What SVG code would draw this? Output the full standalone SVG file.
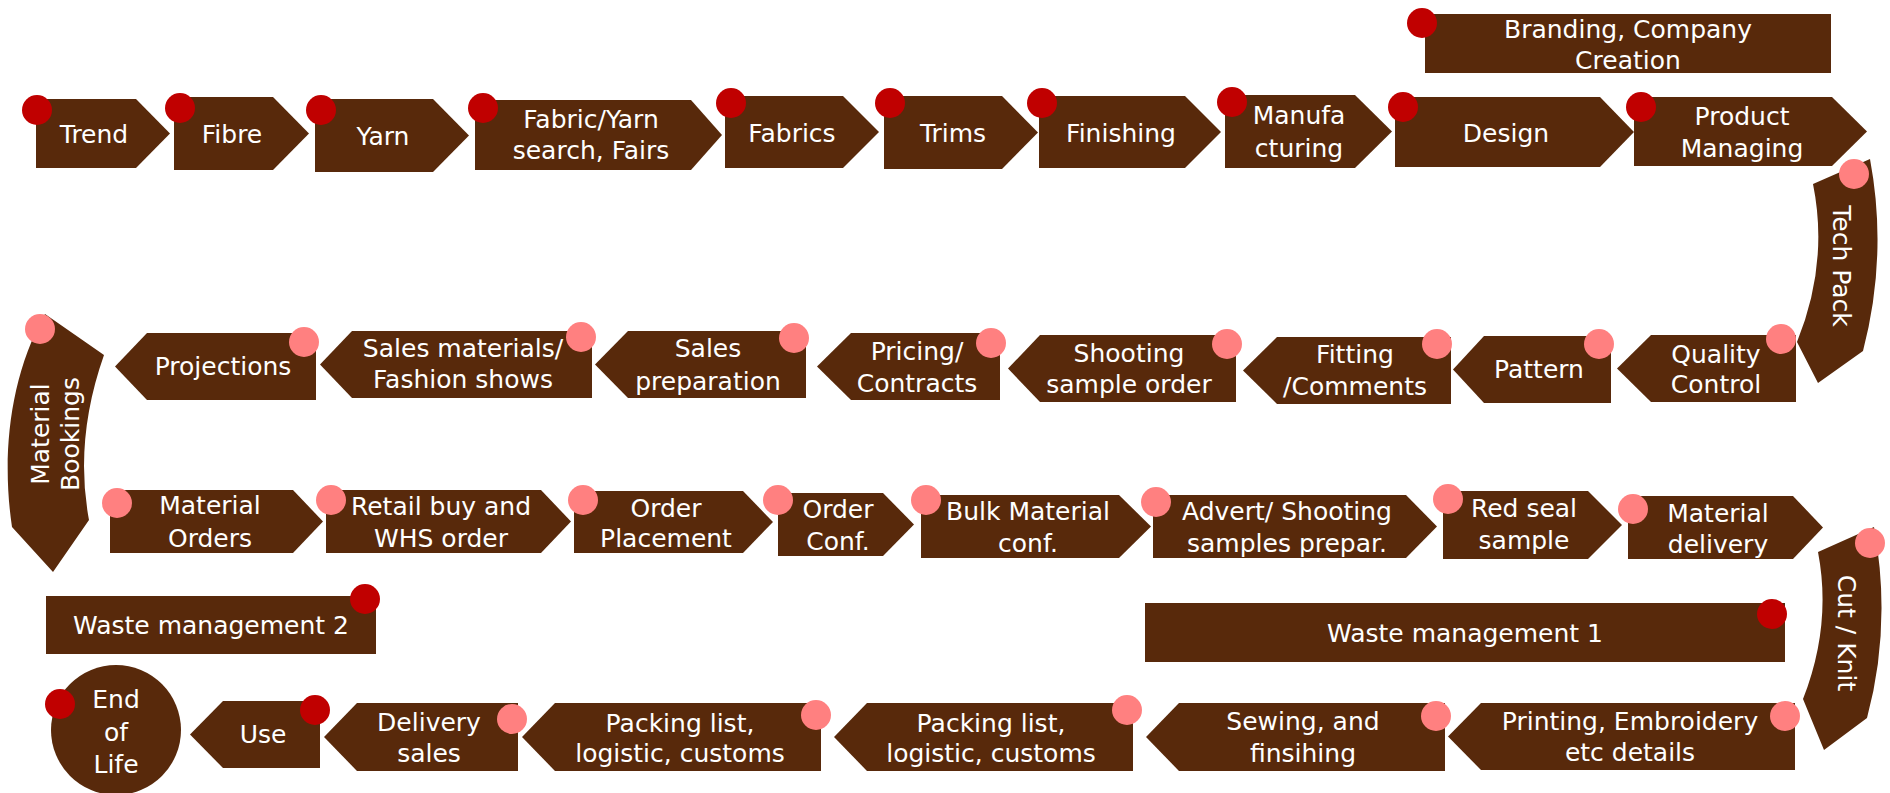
<svg xmlns="http://www.w3.org/2000/svg" width="1890" height="793" viewBox="0 0 1890 793">
<style>
.s{fill:#58290B}
.t{fill:#FFFFFF;font-family:"DejaVu Sans","Open Sans",sans-serif;font-size:25px;text-anchor:middle}
.d{fill:#C00000}
.p{fill:#FF8080}
</style>
<rect width="1890" height="793" fill="#FFFFFF"/>

<g id="trend"><path class="s" d="M36,99 L136,99 L170,133.5 L136,168 L36,168 Z"/><text class="t" x="94" y="143">Trend</text><circle class="d" cx="37" cy="110" r="15"/></g>
<g id="fibre"><path class="s" d="M174,97 L273,97 L309,133.5 L273,170 L174,170 Z"/><text class="t" x="232" y="143">Fibre</text><circle class="d" cx="180" cy="108" r="15"/></g>
<g id="yarn"><path class="s" d="M315,99 L433,99 L469,135.5 L433,172 L315,172 Z"/><text class="t" x="383" y="145">Yarn</text><circle class="d" cx="321" cy="110" r="15"/></g>
<g id="fabric-yarn-search"><path class="s" d="M475,100 L691,100 L722,135 L691,170 L475,170 Z"/><text class="t" x="591" y="128">Fabric/Yarn<tspan x="591" y="159">search, Fairs</tspan></text><circle class="d" cx="483" cy="108" r="15"/></g>
<g id="fabrics"><path class="s" d="M725,96 L843,96 L879,132 L843,168 L725,168 Z"/><text class="t" x="792" y="142">Fabrics</text><circle class="d" cx="731" cy="103" r="15"/></g>
<g id="trims"><path class="s" d="M884,96 L1002,96 L1038,132.5 L1002,169 L884,169 Z"/><text class="t" x="953" y="142">Trims</text><circle class="d" cx="890" cy="103" r="15"/></g>
<g id="finishing"><path class="s" d="M1039,96 L1185,96 L1221,132 L1185,168 L1039,168 Z"/><text class="t" x="1121" y="142">Finishing</text><circle class="d" cx="1042" cy="103" r="15"/></g>
<g id="manufacturing"><path class="s" d="M1225,95 L1355,95 L1392,131.5 L1355,168 L1225,168 Z"/><text class="t" x="1299" y="124">Manufa<tspan x="1299" y="157">cturing</tspan></text><circle class="d" cx="1232" cy="102" r="15"/></g>
<g id="design"><path class="s" d="M1395,97 L1600,97 L1634,132 L1600,167 L1395,167 Z"/><text class="t" x="1506" y="142">Design</text><circle class="d" cx="1403" cy="107" r="15"/></g>
<g id="product-managing"><path class="s" d="M1634,97 L1832,97 L1867,131.5 L1832,166 L1634,166 Z"/><text class="t" x="1742" y="125">Product<tspan x="1742" y="157">Managing</tspan></text><circle class="d" cx="1641" cy="107" r="15"/></g>
<g id="branding"><rect class="s" x="1425" y="14" width="406" height="59"/><text class="t" x="1628" y="38">Branding, Company<tspan x="1628" y="69">Creation</tspan></text><circle class="d" cx="1422" cy="23" r="15"/></g>

<g id="tech-pack"><path class="s" d="M1813,184 L1870,159 Q1888,255 1863,351 L1818,383 L1797,342 Q1829,263 1813,184 Z"/><text class="t" transform="translate(1833,266) rotate(90)">Tech Pack</text><circle class="p" cx="1854" cy="174" r="15"/></g>

<g id="quality-control"><path class="s" d="M1617,368.5 L1651,335 L1796,335 L1796,402 L1651,402 Z"/><text class="t" x="1716" y="363">Quality<tspan x="1716" y="393">Control</tspan></text><circle class="p" cx="1781" cy="339" r="15"/></g>
<g id="pattern"><path class="s" d="M1453,369.5 L1484,336 L1611,336 L1611,403 L1484,403 Z"/><text class="t" x="1539" y="378">Pattern</text><circle class="p" cx="1599" cy="344" r="15"/></g>
<g id="fitting-comments"><path class="s" d="M1243,370.5 L1277,337 L1451,337 L1451,404 L1277,404 Z"/><text class="t" x="1355" y="363">Fitting<tspan x="1355" y="395">/Comments</tspan></text><circle class="p" cx="1437" cy="344" r="15"/></g>
<g id="shooting-sample-order"><path class="s" d="M1008,368.5 L1040,335 L1236,335 L1236,402 L1040,402 Z"/><text class="t" x="1129" y="362">Shooting<tspan x="1129" y="393">sample order</tspan></text><circle class="p" cx="1227" cy="344" r="15"/></g>
<g id="pricing-contracts"><path class="s" d="M817,366.5 L851,333 L1000,333 L1000,400 L851,400 Z"/><text class="t" x="917" y="360">Pricing/<tspan x="917" y="392">Contracts</tspan></text><circle class="p" cx="991" cy="343" r="15"/></g>
<g id="sales-preparation"><path class="s" d="M595,364.5 L628,331 L806,331 L806,398 L628,398 Z"/><text class="t" x="708" y="357">Sales<tspan x="708" y="390">preparation</tspan></text><circle class="p" cx="794" cy="338" r="15"/></g>
<g id="sales-materials"><path class="s" d="M320,364.5 L352,331 L592,331 L592,398 L352,398 Z"/><text class="t" x="463" y="357">Sales materials/<tspan x="463" y="388">Fashion shows</tspan></text><circle class="p" cx="581" cy="337" r="15"/></g>
<g id="projections"><path class="s" d="M115,366.5 L147,333 L316,333 L316,400 L147,400 Z"/><text class="t" x="223" y="375">Projections</text><circle class="p" cx="304" cy="342" r="15"/></g>

<g id="material-bookings"><path class="s" d="M45,314 L104,355 Q74,440 89,520 L53,572 L12,527 C2,460 8,380 45,314 Z"/><text class="t" transform="translate(49,434) rotate(-90)">Material<tspan x="0" y="30">Bookings</tspan></text><circle class="p" cx="40" cy="329" r="15"/></g>

<g id="material-orders"><path class="s" d="M110,490 L293,490 L323,521.5 L293,553 L110,553 Z"/><text class="t" x="210" y="514">Material<tspan x="210" y="547">Orders</tspan></text><circle class="p" cx="117" cy="503" r="15"/></g>
<g id="retail-buy"><path class="s" d="M326,490 L541,490 L571,521.5 L541,553 L326,553 Z"/><text class="t" x="441" y="515">Retail buy and<tspan x="441" y="547">WHS order</tspan></text><circle class="p" cx="331" cy="500" r="15"/></g>
<g id="order-placement"><path class="s" d="M574,491 L743,491 L773,522 L743,553 L574,553 Z"/><text class="t" x="666" y="517">Order<tspan x="666" y="547">Placement</tspan></text><circle class="p" cx="583" cy="500" r="15"/></g>
<g id="order-conf"><path class="s" d="M778,493 L883,493 L914,524.5 L883,556 L778,556 Z"/><text class="t" x="838" y="518">Order<tspan x="838" y="550">Conf.</tspan></text><circle class="p" cx="778" cy="500" r="15"/></g>
<g id="bulk-material-conf"><path class="s" d="M921,495 L1119,495 L1151,526.5 L1119,558 L921,558 Z"/><text class="t" x="1028" y="520">Bulk Material<tspan x="1028" y="552">conf.</tspan></text><circle class="p" cx="926" cy="500" r="15"/></g>
<g id="advert-shooting"><path class="s" d="M1153,495 L1406,495 L1437,526.5 L1406,558 L1153,558 Z"/><text class="t" x="1287" y="520">Advert/ Shooting<tspan x="1287" y="552">samples prepar.</tspan></text><circle class="p" cx="1156" cy="502" r="15"/></g>
<g id="red-seal-sample"><path class="s" d="M1443,491 L1588,491 L1622,525 L1588,559 L1443,559 Z"/><text class="t" x="1524" y="517">Red seal<tspan x="1524" y="549">sample</tspan></text><circle class="p" cx="1448" cy="499" r="15"/></g>
<g id="material-delivery"><path class="s" d="M1628,496 L1793,496 L1823,527.5 L1793,559 L1628,559 Z"/><text class="t" x="1718" y="522">Material<tspan x="1718" y="553">delivery</tspan></text><circle class="p" cx="1633" cy="509" r="15"/></g>

<g id="cut-knit"><path class="s" d="M1818,552 L1874,527 Q1892,625 1867,718 L1824,750 L1803,699 Q1832,625 1818,552 Z"/><text class="t" transform="translate(1838,633) rotate(90)">Cut / Knit</text><circle class="p" cx="1870" cy="543" r="15"/></g>

<g id="waste-management-1"><rect class="s" x="1145" y="603" width="640" height="59"/><text class="t" x="1465" y="642">Waste management 1</text><circle class="d" cx="1772" cy="614" r="15"/></g>
<g id="waste-management-2"><rect class="s" x="46" y="596" width="330" height="58"/><text class="t" x="211" y="634">Waste management 2</text><circle class="d" cx="365" cy="599" r="15"/></g>

<g id="printing-embroidery"><path class="s" d="M1448,736.5 L1481,703 L1795,703 L1795,770 L1481,770 Z"/><text class="t" x="1630" y="730">Printing, Embroidery<tspan x="1630" y="761">etc details</tspan></text><circle class="p" cx="1785" cy="716" r="15"/></g>
<g id="sewing-finishing"><path class="s" d="M1146,737 L1179,703 L1445,703 L1445,771 L1179,771 Z"/><text class="t" x="1303" y="730">Sewing, and<tspan x="1303" y="762">finsihing</tspan></text><circle class="p" cx="1436" cy="716" r="15"/></g>
<g id="packing-list-2"><path class="s" d="M834,737 L867,703 L1133,703 L1133,771 L867,771 Z"/><text class="t" x="991" y="732">Packing list,<tspan x="991" y="762">logistic, customs</tspan></text><circle class="p" cx="1127" cy="710" r="15"/></g>
<g id="packing-list-1"><path class="s" d="M522,737 L555,703 L821,703 L821,771 L555,771 Z"/><text class="t" x="680" y="732">Packing list,<tspan x="680" y="762">logistic, customs</tspan></text><circle class="p" cx="816" cy="715" r="15"/></g>
<g id="delivery-sales"><path class="s" d="M324,737 L357,703 L518,703 L518,771 L357,771 Z"/><text class="t" x="429" y="731">Delivery<tspan x="429" y="762">sales</tspan></text><circle class="p" cx="512" cy="719" r="15"/></g>
<g id="use"><path class="s" d="M190,734.5 L223,701 L320,701 L320,768 L223,768 Z"/><text class="t" x="263" y="743">Use</text><circle class="d" cx="315" cy="710" r="15"/></g>
<g id="end-of-life"><circle class="s" cx="116" cy="730" r="65"/><text class="t" x="116" y="708">End<tspan x="116" y="741">of</tspan><tspan x="116" y="773">Life</tspan></text><circle class="d" cx="60" cy="704" r="15"/></g>
</svg>
